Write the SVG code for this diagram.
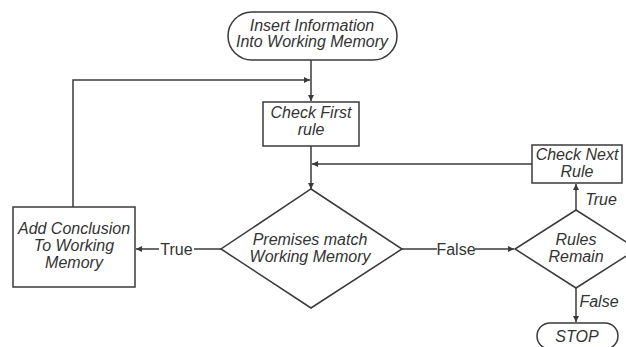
<svg xmlns="http://www.w3.org/2000/svg" width="626" height="347" viewBox="0 0 626 347">
<style>
.shape{fill:#fff;stroke:#3a3a3a;stroke-width:1.5}
.ln{fill:none;stroke:#3a3a3a;stroke-width:1.5}
.t{font-family:"Liberation Sans",Arial,sans-serif;font-size:16px;font-style:italic;fill:#333;text-anchor:middle}
.u{font-style:normal}
</style>
<defs>
<marker id="ah" viewBox="0 0 8 8" refX="8" refY="4" markerWidth="6" markerHeight="6" markerUnits="userSpaceOnUse" orient="auto">
<path d="M0,0 L8,4 L0,8 z" fill="#3a3a3a"/>
</marker>
</defs>
<rect width="626" height="347" fill="#fff"/>
<g id="connectors">
<path class="ln" d="M311,60 V101" marker-end="url(#ah)"/>
<path class="ln" d="M73,207 V80 H310" marker-end="url(#ah)"/>
<path class="ln" d="M311,146 V189" marker-end="url(#ah)"/>
<path class="ln" d="M532,164 H312" marker-end="url(#ah)"/>
<path class="ln" d="M221,249 H194"/>
<path class="ln" d="M159,249 H136" marker-end="url(#ah)"/>
<text class="t u" x="176.5" y="255">True</text>
<path class="ln" d="M402,249 H437"/>
<path class="ln" d="M475,249 H514" marker-end="url(#ah)"/>
<text class="t u" x="456" y="255">False</text>
<path class="ln" d="M576,210 V184" marker-end="url(#ah)"/>
<text class="t" x="601" y="205">True</text>
<path class="ln" d="M576,288 V322" marker-end="url(#ah)"/>
<text class="t" x="599" y="307">False</text>
</g>
<g id="start">
<rect class="shape" x="228" y="12" width="169" height="48" rx="24"/>
<text class="t" x="312" y="31">Insert Information</text>
<text class="t" x="312" y="47">Into Working Memory</text>
</g>
<g id="check-first">
<rect class="shape" x="263" y="102" width="96" height="44"/>
<text class="t" x="311" y="118">Check First</text>
<text class="t" x="311" y="135">rule</text>
</g>
<g id="premises">
<path class="shape" d="M311,189 L402,249 L311,308 L221,249 Z"/>
<text class="t" x="310" y="245">Premises match</text>
<text class="t" x="310" y="262">Working Memory</text>
</g>
<g id="add-conclusion">
<rect class="shape" x="13" y="207" width="122" height="80"/>
<text class="t" x="74" y="234">Add Conclusion</text>
<text class="t" x="74" y="251">To Working</text>
<text class="t" x="74" y="268">Memory</text>
</g>
<g id="check-next">
<rect class="shape" x="532" y="145" width="90" height="38"/>
<text class="t" x="577" y="160">Check Next</text>
<text class="t" x="577" y="177">Rule</text>
</g>
<g id="rules-remain">
<path class="shape" d="M576,210 L637,249 L576,288 L515,249 Z"/>
<text class="t" x="576" y="245">Rules</text>
<text class="t" x="576" y="262">Remain</text>
</g>
<g id="stop">
<rect class="shape" x="537" y="323" width="81" height="26" rx="13"/>
<text class="t" x="577" y="342">STOP</text>
</g>
</svg>
